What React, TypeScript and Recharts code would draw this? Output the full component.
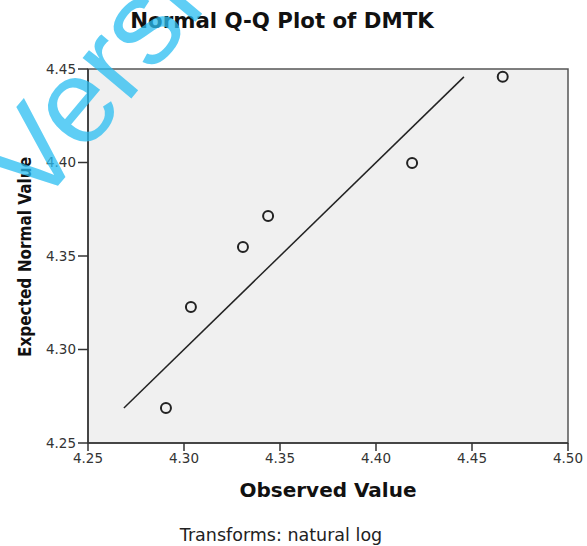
import React from "react";
import { ScatterChart, Scatter, XAxis, YAxis, ReferenceArea } from "recharts";

const observed = [4.2906, 4.3036, 4.3307, 4.3438, 4.4188, 4.466];
const expected = [4.2687, 4.3227, 4.3548, 4.3714, 4.3997, 4.4459];
const xTicks = [4.25, 4.3, 4.35, 4.4, 4.45, 4.5];
const yTicks = [4.25, 4.3, 4.35, 4.4, 4.45];
const lineEnds = [4.2687, 4.4458];

const points = observed.map((x, i) => ({ x, y: expected[i] }));
const lineData = lineEnds.map((v) => ({ x: v, y: v }));

const FONT = "'DejaVu Sans', Verdana, sans-serif";

const Circle = (props: any) => {
  const { cx, cy } = props;
  if (cx == null || cy == null) return null;
  return <circle cx={cx} cy={cy} r={5} fill="none" stroke="#222" strokeWidth={2} />;
};

const NoShape = () => null;

export default function App() {
  return (
    <div style={{ position: "absolute", left: 0, top: 0, width: 587, height: 546, background: "#fff", overflow: "hidden" }}>
      <ScatterChart width={587} height={546} margin={{ top: 69, right: 19, bottom: 73, left: 28 }}>
        <XAxis
          type="number"
          dataKey="x"
          domain={[4.25, 4.5]}
          ticks={xTicks}
          tickFormatter={(v: number) => v.toFixed(2)}
          axisLine={{ stroke: "#333", strokeWidth: 1.5 }}
          tickLine={{ stroke: "#333", strokeWidth: 1.5 }}
          tickSize={8}
          height={30}
          tick={{ fill: "#333", fontSize: 13.5, fontFamily: FONT }}
          allowDataOverflow
          interval={0}
        />
        <YAxis
          type="number"
          dataKey="y"
          domain={[4.25, 4.45]}
          ticks={yTicks}
          tickFormatter={(v: number) => v.toFixed(2)}
          axisLine={{ stroke: "#333", strokeWidth: 1.5 }}
          tickLine={{ stroke: "#333", strokeWidth: 1.5 }}
          tickSize={10}
          width={60}
          tick={{ fill: "#333", fontSize: 13.5, fontFamily: FONT }}
          allowDataOverflow
          interval={0}
        />
        <ReferenceArea x1={4.25} x2={4.5} y1={4.25} y2={4.45} fill="#f0f0f0" fillOpacity={1} stroke="#555" strokeWidth={1.5} />
        <Scatter data={lineData} line={{ stroke: "#222", strokeWidth: 1.5 }} shape={NoShape} isAnimationActive={false} />
        <Scatter data={points} shape={Circle} isAnimationActive={false} />
      </ScatterChart>
      <svg width={587} height={546} style={{ position: "absolute", left: 0, top: 0, pointerEvents: "none" }}>
        <text x={282} y={28} textAnchor="middle" fontFamily={FONT} fontWeight="bold" fontSize={21.3} fill="#111">
          Normal Q-Q Plot of DMTK
        </text>
        <text x={328} y={497} textAnchor="middle" fontFamily={FONT} fontWeight="bold" fontSize={20} fill="#111">
          Observed Value
        </text>
        <text
          transform="translate(31,257) rotate(-90)"
          textAnchor="middle"
          fontFamily="'Liberation Sans Narrow', 'Arial Narrow', 'DejaVu Sans Condensed', sans-serif"
          fontWeight="bold"
          fontSize={17}
          fill="#111"
        >
          Expected Normal Value
        </text>
        <text x={281} y={541} textAnchor="middle" fontFamily={FONT} fontSize={17.5} fill="#222">
          Transforms: natural log
        </text>
        <text
          transform="translate(36,212) rotate(-50)"
          fontFamily="'Liberation Sans', Arial, sans-serif"
          fontSize={120}
          fill="#29bdf2"
          fillOpacity={0.75}
        >
          Version
        </text>
      </svg>
    </div>
  );
}
